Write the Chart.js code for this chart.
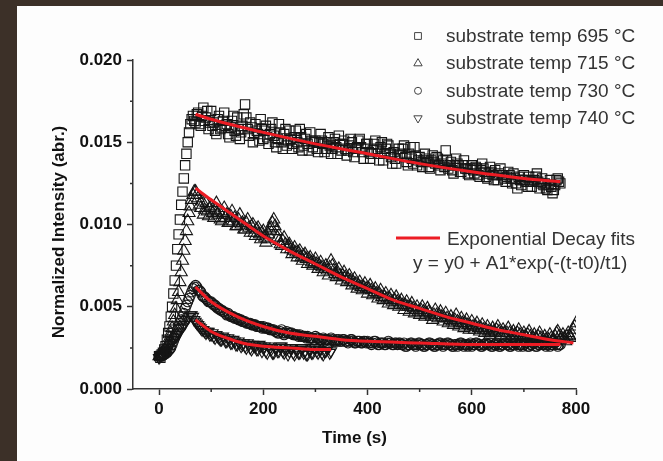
<!DOCTYPE html>
<html>
<head>
<meta charset="utf-8">
<script src="https://cdn.jsdelivr.net/npm/chart.js@4.4.1/dist/chart.umd.min.js"></script>
<style>
  html, body { margin: 0; padding: 0; background: #3c3028; }
  #wrap { width: 663px; height: 461px; }
</style>
</head>
<body>
<div id="wrap"><canvas id="decayChart" width="663" height="461"></canvas></div>
<script>
// sampling times (s), shared by all four measured series
const sampleTimes = [
  0, 2.5, 5, 7.5, 10, 12.5, 15, 17.5, 20, 22.5, 25, 27.5, 30, 32.5, 35, 37.5, 40, 42.5, 45, 47.5,
  50, 52.5, 55, 57.5, 60, 62.5, 65, 67.5, 70, 72.5, 75, 77.5, 80, 82.5, 85, 87.5, 90, 92.5, 95, 97.5,
  100, 102.5, 105, 107.5, 110, 112.5, 115, 117.5, 120, 122.5, 125, 127.5, 130, 132.5, 135, 137.5, 140, 142.5, 145, 147.5,
  150, 152.5, 155, 157.5, 160, 162.5, 165, 167.5, 170, 172.5, 175, 177.5, 180, 182.5, 185, 187.5, 190, 192.5, 195, 197.5,
  200, 202.5, 205, 207.5, 210, 212.5, 215, 217.5, 220, 222.5, 225, 227.5, 230, 232.5, 235, 237.5, 240, 242.5, 245, 247.5,
  250, 252.5, 255, 257.5, 260, 262.5, 265, 267.5, 270, 272.5, 275, 277.5, 280, 282.5, 285, 287.5, 290, 292.5, 295, 297.5,
  300, 302.5, 305, 307.5, 310, 312.5, 315, 317.5, 320, 322.5, 325, 327.5, 330, 332.5, 335, 337.5, 340, 342.5, 345, 347.5,
  350, 352.5, 355, 357.5, 360, 362.5, 365, 367.5, 370, 372.5, 375, 377.5, 380, 382.5, 385, 387.5, 390, 392.5, 395, 397.5,
  400, 402.5, 405, 407.5, 410, 412.5, 415, 417.5, 420, 422.5, 425, 427.5, 430, 432.5, 435, 437.5, 440, 442.5, 445, 447.5,
  450, 452.5, 455, 457.5, 460, 462.5, 465, 467.5, 470, 472.5, 475, 477.5, 480, 482.5, 485, 487.5, 490, 492.5, 495, 497.5,
  500, 502.5, 505, 507.5, 510, 512.5, 515, 517.5, 520, 522.5, 525, 527.5, 530, 532.5, 535, 537.5, 540, 542.5, 545, 547.5,
  550, 552.5, 555, 557.5, 560, 562.5, 565, 567.5, 570, 572.5, 575, 577.5, 580, 582.5, 585, 587.5, 590, 592.5, 595, 597.5,
  600, 602.5, 605, 607.5, 610, 612.5, 615, 617.5, 620, 622.5, 625, 627.5, 630, 632.5, 635, 637.5, 640, 642.5, 645, 647.5,
  650, 652.5, 655, 657.5, 660, 662.5, 665, 667.5, 670, 672.5, 675, 677.5, 680, 682.5, 685, 687.5, 690, 692.5, 695, 697.5,
  700, 702.5, 705, 707.5, 710, 712.5, 715, 717.5, 720, 722.5, 725, 727.5, 730, 732.5, 735, 737.5, 740, 742.5, 745, 747.5,
  750, 752.5, 755, 757.5, 760, 762.5, 765, 767.5, 770, 772.5, 775, 777.5, 780, 782.5, 785, 787.5, 790, 792.5, 795, 797.5, 800
];

const temp695 = [
  0.0020, 0.0019, 0.0021, 0.0022, 0.0024, 0.0026, 0.0030, 0.0034, 0.0038, 0.0044, 0.0050, 0.0058, 0.0066, 0.0075, 0.0085, 0.0094, 0.0103, 0.0112, 0.0120, 0.0128,
  0.0136, 0.0143, 0.0150, 0.0156, 0.0161, 0.0164, 0.0166, 0.0163, 0.0162, 0.0167, 0.0168, 0.0161, 0.0160, 0.0166, 0.0171, 0.0163, 0.0165, 0.0169, 0.0158, 0.0162,
  0.0169, 0.0160, 0.0162, 0.0157, 0.0155, 0.0164, 0.0166, 0.0158, 0.0159, 0.0163, 0.0168, 0.0160, 0.0161, 0.0155, 0.0153, 0.0159, 0.0163, 0.0166, 0.0157, 0.0154,
  0.0165, 0.0158, 0.0152, 0.0156, 0.0160, 0.0167, 0.0173, 0.0165, 0.0158, 0.0154, 0.0162, 0.0159, 0.0150, 0.0155, 0.0161, 0.0157, 0.0155, 0.0151, 0.0164, 0.0158,
  0.0152, 0.0157, 0.0160, 0.0153, 0.0149, 0.0155, 0.0158, 0.0162, 0.0154, 0.0150, 0.0147, 0.0152, 0.0161, 0.0156, 0.0150, 0.0146, 0.0155, 0.0158, 0.0148, 0.0151,
  0.0157, 0.0152, 0.0146, 0.0149, 0.0153, 0.0157, 0.0150, 0.0147, 0.0158, 0.0153, 0.0145, 0.0148, 0.0152, 0.0155, 0.0149, 0.0145, 0.0156, 0.0151, 0.0147, 0.0150,
  0.0151, 0.0146, 0.0144, 0.0150, 0.0155, 0.0151, 0.0149, 0.0144, 0.0146, 0.0150, 0.0153, 0.0148, 0.0143, 0.0146, 0.0150, 0.0152, 0.0147, 0.0143, 0.0154, 0.0149,
  0.0145, 0.0149, 0.0151, 0.0146, 0.0142, 0.0145, 0.0148, 0.0152, 0.0150, 0.0144, 0.0141, 0.0146, 0.0147, 0.0151, 0.0152, 0.0147, 0.0144, 0.0140, 0.0146, 0.0149,
  0.0149, 0.0144, 0.0140, 0.0143, 0.0145, 0.0149, 0.0151, 0.0146, 0.0143, 0.0139, 0.0147, 0.0150, 0.0139, 0.0143, 0.0146, 0.0149, 0.0148, 0.0143, 0.0141, 0.0137,
  0.0144, 0.0140, 0.0137, 0.0142, 0.0146, 0.0143, 0.0142, 0.0146, 0.0148, 0.0141, 0.0138, 0.0136, 0.0143, 0.0147, 0.0140, 0.0137, 0.0147, 0.0142, 0.0136, 0.0139,
  0.0141, 0.0138, 0.0135, 0.0139, 0.0143, 0.0140, 0.0138, 0.0135, 0.0134, 0.0139, 0.0142, 0.0138, 0.0137, 0.0141, 0.0140, 0.0136, 0.0133, 0.0137, 0.0139, 0.0135,
  0.0145, 0.0139, 0.0134, 0.0136, 0.0138, 0.0133, 0.0131, 0.0136, 0.0140, 0.0137, 0.0136, 0.0132, 0.0132, 0.0136, 0.0139, 0.0134, 0.0134, 0.0131, 0.0130, 0.0134,
  0.0136, 0.0133, 0.0131, 0.0135, 0.0134, 0.0130, 0.0129, 0.0133, 0.0137, 0.0134, 0.0132, 0.0129, 0.0128, 0.0131, 0.0135, 0.0132, 0.0130, 0.0127, 0.0133, 0.0130,
  0.0127, 0.0131, 0.0134, 0.0130, 0.0130, 0.0128, 0.0126, 0.0129, 0.0132, 0.0130, 0.0128, 0.0125, 0.0131, 0.0128, 0.0125, 0.0122, 0.0129, 0.0127, 0.0124, 0.0127,
  0.0130, 0.0127, 0.0126, 0.0123, 0.0129, 0.0126, 0.0123, 0.0126, 0.0127, 0.0129, 0.0131, 0.0126, 0.0122, 0.0125, 0.0128, 0.0124, 0.0125, 0.0122, 0.0121, 0.0124,
  0.0127, 0.0123, 0.0119, 0.0121, 0.0124, 0.0127, 0.0128, 0.0126, 0.0125
];

const temp715 = [
  0.0020, 0.0021, 0.0021, 0.0022, 0.0023, 0.0024, 0.0026, 0.0028, 0.0031, 0.0034, 0.0037, 0.0041, 0.0045, 0.0049, 0.0054, 0.0059, 0.0065, 0.0071, 0.0078, 0.0084,
  0.0090, 0.0096, 0.0102, 0.0107, 0.0111, 0.0115, 0.0118, 0.0120, 0.0120, 0.0118, 0.0116, 0.0112, 0.0110, 0.0114, 0.0106, 0.0109, 0.0113, 0.0108, 0.0105, 0.0110,
  0.0111, 0.0107, 0.0104, 0.0109, 0.0113, 0.0106, 0.0108, 0.0103, 0.0102, 0.0107, 0.0110, 0.0104, 0.0106, 0.0101, 0.0101, 0.0105, 0.0108, 0.0102, 0.0104, 0.0099,
  0.0099, 0.0103, 0.0106, 0.0100, 0.0101, 0.0097, 0.0097, 0.0101, 0.0103, 0.0098, 0.0095, 0.0099, 0.0100, 0.0095, 0.0093, 0.0097, 0.0098, 0.0094, 0.0091, 0.0095,
  0.0096, 0.0092, 0.0089, 0.0091, 0.0094, 0.0097, 0.0098, 0.0101, 0.0103, 0.0099, 0.0096, 0.0092, 0.0090, 0.0088, 0.0087, 0.0090, 0.0092, 0.0088, 0.0085, 0.0087,
  0.0088, 0.0085, 0.0082, 0.0084, 0.0086, 0.0083, 0.0080, 0.0083, 0.0084, 0.0080, 0.0078, 0.0081, 0.0082, 0.0079, 0.0076, 0.0079, 0.0080, 0.0077, 0.0075, 0.0077,
  0.0079, 0.0076, 0.0073, 0.0075, 0.0077, 0.0074, 0.0071, 0.0073, 0.0075, 0.0072, 0.0069, 0.0074, 0.0078, 0.0075, 0.0072, 0.0070, 0.0068, 0.0071, 0.0073, 0.0069,
  0.0066, 0.0069, 0.0071, 0.0068, 0.0065, 0.0067, 0.0069, 0.0066, 0.0063, 0.0065, 0.0067, 0.0064, 0.0061, 0.0063, 0.0065, 0.0062, 0.0060, 0.0062, 0.0064, 0.0061,
  0.0058, 0.0061, 0.0063, 0.0060, 0.0057, 0.0059, 0.0061, 0.0058, 0.0055, 0.0058, 0.0060, 0.0056, 0.0054, 0.0056, 0.0058, 0.0055, 0.0052, 0.0055, 0.0057, 0.0053,
  0.0051, 0.0054, 0.0056, 0.0053, 0.0050, 0.0052, 0.0054, 0.0051, 0.0048, 0.0051, 0.0053, 0.0050, 0.0047, 0.0050, 0.0052, 0.0049, 0.0046, 0.0048, 0.0050, 0.0047,
  0.0045, 0.0048, 0.0050, 0.0047, 0.0044, 0.0046, 0.0049, 0.0047, 0.0046, 0.0044, 0.0042, 0.0045, 0.0048, 0.0045, 0.0043, 0.0045, 0.0047, 0.0044, 0.0041, 0.0043,
  0.0046, 0.0043, 0.0040, 0.0042, 0.0044, 0.0041, 0.0039, 0.0042, 0.0045, 0.0041, 0.0038, 0.0040, 0.0043, 0.0040, 0.0037, 0.0040, 0.0042, 0.0039, 0.0036, 0.0038,
  0.0041, 0.0038, 0.0036, 0.0038, 0.0040, 0.0037, 0.0035, 0.0037, 0.0039, 0.0036, 0.0034, 0.0036, 0.0038, 0.0035, 0.0033, 0.0035, 0.0037, 0.0035, 0.0034, 0.0036,
  0.0038, 0.0035, 0.0033, 0.0034, 0.0036, 0.0034, 0.0032, 0.0034, 0.0037, 0.0034, 0.0031, 0.0033, 0.0035, 0.0033, 0.0032, 0.0034, 0.0036, 0.0033, 0.0030, 0.0032,
  0.0034, 0.0032, 0.0031, 0.0033, 0.0035, 0.0032, 0.0029, 0.0031, 0.0033, 0.0031, 0.0030, 0.0032, 0.0034, 0.0031, 0.0029, 0.0030, 0.0032, 0.0030, 0.0028, 0.0030,
  0.0033, 0.0031, 0.0029, 0.0030, 0.0032, 0.0034, 0.0035, 0.0032, 0.0030, 0.0031, 0.0033, 0.0031, 0.0029, 0.0032, 0.0034, 0.0032, 0.0031, 0.0033, 0.0036, 0.0038, 0.0040
];

const temp730 = [
  0.0020, 0.0020, 0.0020, 0.0021, 0.0021, 0.0022, 0.0022, 0.0023, 0.0024, 0.0025, 0.0027, 0.0029, 0.0031, 0.0033, 0.0036, 0.0038, 0.0040, 0.0042, 0.0044, 0.0046,
  0.0049, 0.0051, 0.0053, 0.0055, 0.0057, 0.0059, 0.0061, 0.0062, 0.0063, 0.0062, 0.0060, 0.0060, 0.0059, 0.0057, 0.0056, 0.0056, 0.0055, 0.0054, 0.0053, 0.0053,
  0.0053, 0.0052, 0.0051, 0.0051, 0.0050, 0.0049, 0.0049, 0.0048, 0.0048, 0.0047, 0.0047, 0.0046, 0.0045, 0.0046, 0.0045, 0.0044, 0.0044, 0.0044, 0.0043, 0.0043,
  0.0043, 0.0042, 0.0042, 0.0042, 0.0041, 0.0041, 0.0041, 0.0040, 0.0040, 0.0040, 0.0040, 0.0039, 0.0039, 0.0039, 0.0039, 0.0038, 0.0038, 0.0038, 0.0038, 0.0037,
  0.0038, 0.0037, 0.0037, 0.0037, 0.0037, 0.0036, 0.0036, 0.0036, 0.0036, 0.0035, 0.0035, 0.0034, 0.0034, 0.0035, 0.0036, 0.0034, 0.0033, 0.0034, 0.0035, 0.0034,
  0.0034, 0.0034, 0.0034, 0.0033, 0.0033, 0.0033, 0.0033, 0.0032, 0.0033, 0.0032, 0.0032, 0.0032, 0.0032, 0.0031, 0.0032, 0.0031, 0.0031, 0.0031, 0.0031, 0.0030,
  0.0032, 0.0031, 0.0031, 0.0030, 0.0030, 0.0030, 0.0031, 0.0030, 0.0030, 0.0030, 0.0030, 0.0029, 0.0031, 0.0030, 0.0029, 0.0029, 0.0030, 0.0029, 0.0030, 0.0029,
  0.0029, 0.0030, 0.0030, 0.0029, 0.0029, 0.0028, 0.0029, 0.0030, 0.0030, 0.0029, 0.0028, 0.0028, 0.0029, 0.0029, 0.0029, 0.0028, 0.0028, 0.0029, 0.0029, 0.0028,
  0.0029, 0.0028, 0.0028, 0.0027, 0.0028, 0.0029, 0.0029, 0.0028, 0.0027, 0.0027, 0.0028, 0.0028, 0.0028, 0.0027, 0.0027, 0.0028, 0.0029, 0.0028, 0.0028, 0.0027,
  0.0027, 0.0028, 0.0028, 0.0027, 0.0028, 0.0028, 0.0027, 0.0027, 0.0028, 0.0026, 0.0026, 0.0027, 0.0027, 0.0028, 0.0028, 0.0027, 0.0027, 0.0026, 0.0027, 0.0028,
  0.0028, 0.0027, 0.0027, 0.0026, 0.0026, 0.0027, 0.0027, 0.0028, 0.0028, 0.0027, 0.0027, 0.0026, 0.0026, 0.0027, 0.0027, 0.0028, 0.0028, 0.0027, 0.0026, 0.0027,
  0.0027, 0.0028, 0.0028, 0.0027, 0.0027, 0.0026, 0.0026, 0.0027, 0.0027, 0.0026, 0.0027, 0.0028, 0.0028, 0.0027, 0.0026, 0.0027, 0.0027, 0.0026, 0.0027, 0.0028,
  0.0026, 0.0027, 0.0027, 0.0028, 0.0028, 0.0027, 0.0027, 0.0026, 0.0026, 0.0027, 0.0027, 0.0028, 0.0027, 0.0027, 0.0028, 0.0026, 0.0026, 0.0027, 0.0027, 0.0028,
  0.0027, 0.0026, 0.0026, 0.0027, 0.0027, 0.0028, 0.0028, 0.0027, 0.0027, 0.0026, 0.0026, 0.0027, 0.0027, 0.0028, 0.0028, 0.0027, 0.0026, 0.0027, 0.0027, 0.0026,
  0.0027, 0.0028, 0.0028, 0.0026, 0.0026, 0.0027, 0.0027, 0.0028, 0.0028, 0.0026, 0.0026, 0.0027, 0.0027, 0.0028, 0.0027, 0.0027, 0.0028, 0.0026, 0.0027, 0.0028,
  0.0026, 0.0027, 0.0027, 0.0028, 0.0028, 0.0027, 0.0026, 0.0027, 0.0027
];

const temp740 = [
  0.0019, 0.0020, 0.0021, 0.0021, 0.0022, 0.0023, 0.0024, 0.0025, 0.0027, 0.0028, 0.0029, 0.0030, 0.0031, 0.0032, 0.0033, 0.0034, 0.0035, 0.0037, 0.0038, 0.0039,
  0.0040, 0.0042, 0.0043, 0.0044, 0.0045, 0.0045, 0.0044, 0.0042, 0.0041, 0.0040, 0.0039, 0.0038, 0.0037, 0.0036, 0.0036, 0.0035, 0.0034, 0.0035, 0.0035, 0.0033,
  0.0033, 0.0034, 0.0032, 0.0031, 0.0033, 0.0032, 0.0031, 0.0030, 0.0030, 0.0032, 0.0031, 0.0029, 0.0029, 0.0031, 0.0030, 0.0028, 0.0028, 0.0030, 0.0029, 0.0027,
  0.0027, 0.0029, 0.0028, 0.0026, 0.0027, 0.0028, 0.0026, 0.0025, 0.0028, 0.0027, 0.0025, 0.0024, 0.0027, 0.0026, 0.0026, 0.0024, 0.0024, 0.0027, 0.0026, 0.0023,
  0.0025, 0.0026, 0.0023, 0.0022, 0.0026, 0.0025, 0.0024, 0.0022, 0.0022, 0.0025, 0.0025, 0.0023, 0.0023, 0.0026, 0.0026, 0.0023, 0.0022, 0.0025, 0.0024, 0.0021,
  0.0023, 0.0025, 0.0025, 0.0022, 0.0021, 0.0024, 0.0024, 0.0022, 0.0022, 0.0025, 0.0025, 0.0022, 0.0023, 0.0021, 0.0021, 0.0024, 0.0024, 0.0022, 0.0022, 0.0025,
  0.0025, 0.0023, 0.0022, 0.0024, 0.0024, 0.0022, 0.0021, 0.0023, 0.0023, 0.0025, 0.0025, 0.0022, 0.0023
];

// exponential decay fit curves
const fitTimes695 = [70, 100, 200, 300, 400, 500, 600, 700, 770];
const fit695 = [0.0167, 0.0164, 0.0156, 0.0149, 0.0143, 0.0137, 0.0132, 0.0128, 0.0126];
const fitTimes715 = [70, 100, 150, 200, 250, 300, 350, 400, 450, 500, 550, 600, 650, 700, 750, 795];
const fit715 = [0.0122, 0.0115, 0.0104, 0.0093, 0.0084, 0.0076, 0.0068, 0.0061, 0.0054, 0.0049, 0.0044, 0.0040, 0.0036, 0.0033, 0.0030, 0.0028];
const fitTimes730 = [70, 100, 150, 200, 250, 300, 350, 400, 500, 600, 700, 770];
const fit730 = [0.0062, 0.0053, 0.0044, 0.0038, 0.0034, 0.0032, 0.0030, 0.0029, 0.0028, 0.0027, 0.0027, 0.0027];
const fitTimes740 = [70, 100, 130, 160, 200, 250, 300, 330];
const fit740 = [0.0042, 0.0035, 0.0031, 0.0028, 0.0026, 0.0025, 0.0024, 0.0024];

const legendLabels = [
  'substrate temp 695 \u00B0C',
  'substrate temp 715 \u00B0C',
  'substrate temp 730 \u00B0C',
  'substrate temp 740 \u00B0C'
];
const fitLabel = 'Exponential Decay fits';
const fitFormula = 'y = y0 + A1*exp(-(t-t0)/t1)';

const xMajorTicks = [0, 200, 400, 600, 800];
const xMinorTicks = [100, 300, 500, 700];
const yMajorTicks = [0, 0.005, 0.010, 0.015, 0.020];
const yMinorTicks = [0.0025, 0.0075, 0.0125, 0.0175];

const fontFamily = "Arial, 'Liberation Sans', sans-serif";
const axisColor = '#333';
const fitRed = '#ec1c24';

function toPoints(values, times) {
  return values.map((v, i) => ({ x: times[i], y: v }));
}

function markerSet(label, values, style, rotation, radius) {
  return {
    label: label,
    data: toPoints(values, sampleTimes),
    showLine: false,
    pointStyle: style,
    pointRotation: rotation,
    pointRadius: radius,
    pointBorderWidth: 1.1,
    pointBorderColor: '#151515',
    pointBackgroundColor: 'rgba(255,255,255,0)',
    order: 2
  };
}

function fitSet(times, values) {
  return {
    label: fitLabel,
    data: toPoints(values, times),
    showLine: true,
    borderColor: fitRed,
    borderWidth: 3,
    pointRadius: 0,
    cubicInterpolationMode: 'monotone',
    order: 0
  };
}

// brown frame + white sheet behind the plot
const paperPlugin = {
  id: 'paper',
  beforeDraw(chart) {
    const ctx = chart.ctx;
    ctx.save();
    ctx.fillStyle = '#3c3028';
    ctx.fillRect(0, 0, chart.width, chart.height);
    ctx.fillStyle = '#fdfdfd';
    ctx.fillRect(17, 6, chart.width - 17, chart.height - 6);
    ctx.restore();
  }
};

// minor ticks, y title and the two legends
const decorPlugin = {
  id: 'decor',
  afterDraw(chart) {
    const { ctx, scales: { x, y } } = chart;
    const axisX = chart.chartArea.left;
    const axisY = chart.chartArea.bottom;
    ctx.save();
    ctx.strokeStyle = axisColor;
    ctx.lineWidth = 1.5;
    ctx.beginPath();
    yMinorTicks.forEach(v => {
      const py = y.getPixelForValue(v);
      ctx.moveTo(axisX - 3, py);
      ctx.lineTo(axisX, py);
    });
    xMinorTicks.forEach(v => {
      const px = x.getPixelForValue(v);
      ctx.moveTo(px, axisY);
      ctx.lineTo(px, axisY + 3);
    });
    ctx.stroke();

    // y axis title
    ctx.save();
    ctx.translate(59, 232);
    ctx.rotate(-Math.PI / 2);
    ctx.font = 'bold 17px ' + fontFamily;
    ctx.fillStyle = '#111';
    ctx.textAlign = 'center';
    ctx.textBaseline = 'middle';
    ctx.fillText('Normalized Intensity (abr.)', 0, 0);
    ctx.restore();

    // series legend
    const styles = [['rect', 0], ['triangle', 0], ['circle', 0], ['triangle', 180]];
    ctx.font = '19px ' + fontFamily;
    ctx.textAlign = 'left';
    ctx.textBaseline = 'alphabetic';
    legendLabels.forEach((label, i) => {
      const base = 42 + i * 27.4;
      ctx.strokeStyle = '#444';
      ctx.fillStyle = '#fff';
      ctx.lineWidth = 1;
      Chart.helpers.drawPoint(ctx, {
        pointStyle: styles[i][0],
        rotation: styles[i][1],
        radius: styles[i][0] === 'circle' ? 3.5 : 4.8,
        borderWidth: 1
      }, 418, base - 6);
      ctx.fillStyle = '#333';
      ctx.fillText(label, 446, base);
    });

    // fit legend
    ctx.strokeStyle = fitRed;
    ctx.lineWidth = 3;
    ctx.beginPath();
    ctx.moveTo(396, 238);
    ctx.lineTo(440, 238);
    ctx.stroke();
    ctx.fillStyle = '#333';
    ctx.fillText(fitLabel, 447, 245);
    ctx.fillText(fitFormula, 413, 269);
    ctx.restore();
  }
};

Chart.defaults.font.family = fontFamily;

const ctx = document.getElementById('decayChart').getContext('2d');
new Chart(ctx, {
  type: 'scatter',
  data: {
    datasets: [
      fitSet(fitTimes695, fit695),
      fitSet(fitTimes715, fit715),
      fitSet(fitTimes730, fit730),
      fitSet(fitTimes740, fit740),
      markerSet(legendLabels[0], temp695, 'rect', 0, 6.6),
      markerSet(legendLabels[1], temp715, 'triangle', 0, 7),
      markerSet(legendLabels[2], temp730, 'circle', 0, 5),
      markerSet(legendLabels[3], temp740, 'triangle', 180, 6.5)
    ]
  },
  options: {
    responsive: false,
    devicePixelRatio: 1,
    animation: false,
    events: [],
    layout: { padding: { left: 0, top: 60, right: 87, bottom: 0 } },
    plugins: {
      legend: { display: false },
      tooltip: { enabled: false }
    },
    scales: {
      x: {
        type: 'linear',
        min: -50,
        max: 800,
        afterBuildTicks: scale => { scale.ticks = xMajorTicks.map(v => ({ value: v })); },
        afterFit: scale => { scale.height = 72; },
        ticks: {
          padding: 4,
          color: '#111',
          font: { size: 17, weight: 'bold' },
          callback: v => String(v)
        },
        grid: { drawOnChartArea: false, drawTicks: true, tickLength: 6, tickWidth: 1.5, tickColor: axisColor },
        border: { display: true, color: axisColor, width: 1.5 },
        title: {
          display: true,
          text: 'Time (s)',
          color: '#111',
          font: { size: 17, weight: 'bold' },
          padding: { top: 0, bottom: 12 }
        }
      },
      y: {
        type: 'linear',
        min: 0,
        max: 0.020,
        afterBuildTicks: scale => { scale.ticks = yMajorTicks.map(v => ({ value: v })); },
        afterFit: scale => { scale.width = 133; },
        ticks: {
          padding: 5,
          color: '#111',
          font: { size: 17, weight: 'bold' },
          callback: v => v.toFixed(3)
        },
        grid: { drawOnChartArea: false, drawTicks: true, tickLength: 6, tickWidth: 1.5, tickColor: axisColor },
        border: { display: true, color: axisColor, width: 1.5 }
      }
    }
  },
  plugins: [paperPlugin, decorPlugin]
});
</script>
</body>
</html>
